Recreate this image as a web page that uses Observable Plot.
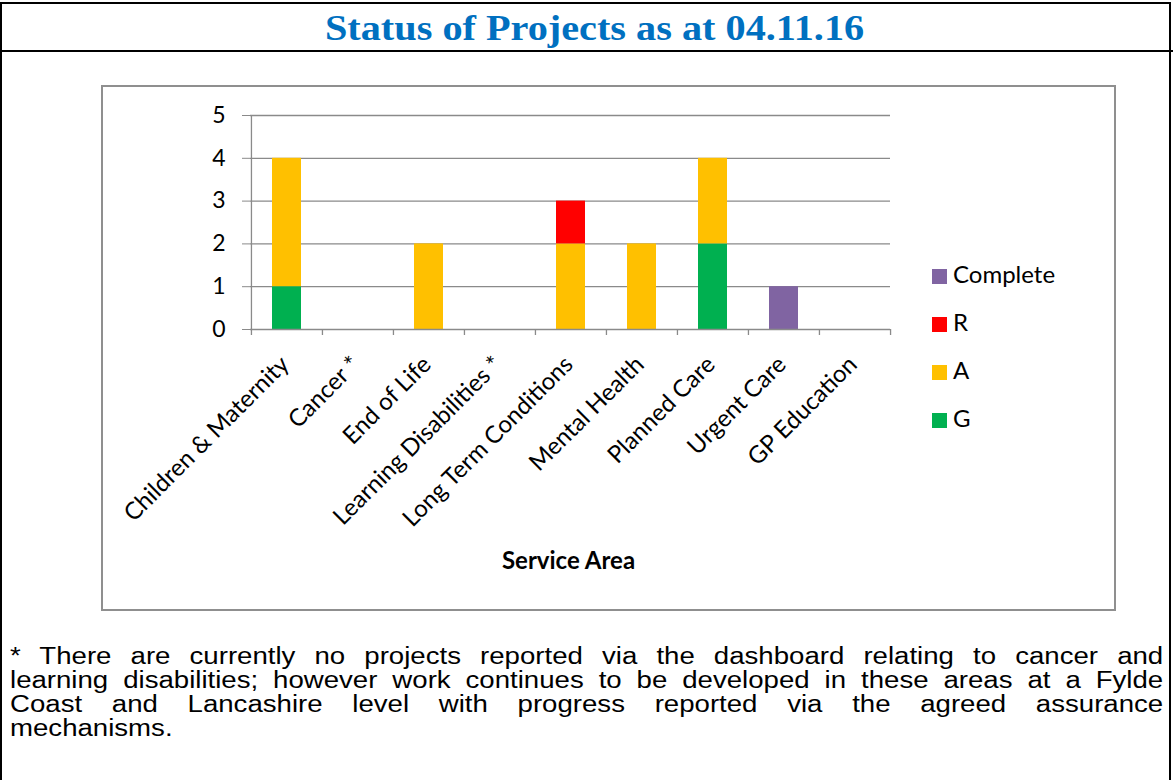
<!DOCTYPE html>
<html>
<head>
<meta charset="utf-8">
<script src="https://cdn.jsdelivr.net/npm/d3@7"></script>
<script src="https://cdn.jsdelivr.net/npm/@observablehq/plot@0.6"></script>
<style>
  html, body { margin: 0; padding: 0; background: #fff; }
  #page { position: relative; width: 1173px; height: 780px; overflow: hidden; background: #fff; }
  #outer { position: absolute; left: 0px; top: 2px; width: 1171px; height: 800px; border: 2px solid #000; box-sizing: border-box; }
  #sep { position: absolute; left: 0px; top: 50px; width: 1173px; height: 2px; background: #000; }
  #title { position: absolute; left: 8px; top: 10px; width: 1173px; text-align: center; font-family: "Liberation Serif", serif; font-weight: bold; font-size: 35px; color: #0070C0; line-height: 38px; transform: scaleX(1.15); transform-origin: 586px 0; white-space: nowrap; }
  #frame { position: absolute; left: 101px; top: 85px; width: 1015px; height: 526px; border: 2px solid #8f8f8f; box-sizing: border-box; }
  #chart { position: absolute; left: 101px; top: 85px; }
  #legend { position: absolute; left: 932px; top: 266px; font-family: Lato, sans-serif; font-size: 24px; color: #000; }
  .li { position: absolute; left: 0; height: 20px; white-space: nowrap; }
  .sw { position: absolute; left: 0; top: 3px; width: 15px; height: 15px; }
  .lt { position: absolute; left: 21px; top: -4px; line-height: 24px; }
  #note { position: absolute; left: 10px; top: 644px; width: 961px; transform: scaleX(1.2); transform-origin: 0 0; font-family: "Liberation Sans", Arial, sans-serif; font-size: 23px; line-height: 24px; color: #000; }
  #note .ln { text-align: justify; text-align-last: justify; white-space: nowrap; height: 24px; }
  #note .ln.last { text-align-last: left; }
</style>
</head>
<body>
<div id="page">
  <div id="outer"></div>
  <div id="sep"></div>
  <div id="title"></div>
  <div id="frame"></div>
  <div id="chart"></div>
  <div id="legend"></div>
  <div id="note"></div>
</div>
<script>
const titleText = "Status of Projects as at 04.11.16";
const categories = ["Children & Maternity", "Cancer *", "End of Life", "Learning Disabilities *", "Long Term Conditions", "Mental Health", "Planned Care", "Urgent Care", "GP Education"];
const statusG = [1, 0, 0, 0, 0, 0, 2, 0, 0];
const statusA = [3, 0, 2, 0, 2, 2, 2, 0, 0];
const statusR = [0, 0, 0, 0, 1, 0, 0, 0, 0];
const statusComplete = [0, 0, 0, 0, 0, 0, 0, 1, 0];
const legendOrder = ["Complete", "R", "A", "G"];
const stackOrder = ["G", "A", "R", "Complete"];
const statusColors = ["#8064A2", "#FF0000", "#FFC000", "#00B050"];
const yTicks = [0, 1, 2, 3, 4, 5];
const xTitle = "Service Area";
const footnoteLines = [
  "* There are currently no projects reported via the dashboard relating to cancer and",
  "learning disabilities; however work continues to be developed in these areas at a Fylde",
  "Coast and Lancashire level with progress reported via the agreed assurance",
  "mechanisms."
];

const seriesByStatus = {G: statusG, A: statusA, R: statusR, Complete: statusComplete};
const rows = [];
for (const s of stackOrder) {
  categories.forEach((c, i) => rows.push({category: c, status: s, value: seriesByStatus[s][i]}));
}

document.getElementById("title").textContent = titleText;
const note = document.getElementById("note");
footnoteLines.forEach((t, i) => {
  const d = document.createElement("div");
  d.className = "ln" + (i === footnoteLines.length - 1 ? " last" : "");
  d.textContent = t;
  note.appendChild(d);
});

const W = 1014, H = 525;
const mL = 149, mR = 225, mT = 30, mB = 281;
const bw = (W - mL - mR) / categories.length;
const grid = "#8a8a8a";

const chart = Plot.plot({
  width: W,
  height: H,
  marginLeft: mL,
  marginRight: mR,
  marginTop: mT,
  marginBottom: mB,
  style: {background: "transparent", fontFamily: "Lato, sans-serif", fontSize: "23px", color: "#000", overflow: "visible"},
  x: {type: "band", domain: categories, padding: 0, axis: null},
  y: {domain: [0, 5], axis: null},
  color: {domain: legendOrder, range: statusColors},
  marks: [
    Plot.ruleY(yTicks.filter(d => d > 0), {stroke: grid, strokeWidth: 1.3}),
    Plot.barY(rows, {x: "category", y: "value", fill: "status", order: stackOrder, insetLeft: 21, insetRight: 21}),
    Plot.ruleY([0], {stroke: grid, strokeWidth: 1.3}),
    Plot.ruleX(categories.slice(0, 1), {x: d => d, dx: -bw / 2, y1: 0, y2: 5, stroke: grid, strokeWidth: 1.3}),
    Plot.axisY({ticks: yTicks, tickSize: 8, tickPadding: 17, stroke: grid, fill: "#000", fontSize: 23, label: null, tickFormat: d => String(d)}),
    Plot.ruleX(categories, {x: d => d, dx: -bw / 2, y1: 0, y2: 0, insetBottom: -6, stroke: grid, strokeWidth: 1.3}),
    Plot.ruleX(categories.slice(-1), {x: d => d, dx: bw / 2, y1: 0, y2: 0, insetBottom: -6, stroke: grid, strokeWidth: 1.3}),
    Plot.text(categories, {x: d => d, frameAnchor: "bottom", rotate: -45, textAnchor: "end", lineAnchor: "middle", dx: -2, dy: 31, fontSize: 24, fill: "#000"}),
    Plot.text([xTitle], {frameAnchor: "bottom", dx: -2, dy: 239, fontWeight: "bold", fontSize: 24, fill: "#000"})
  ]
});
document.getElementById("chart").appendChild(chart);

const legend = document.getElementById("legend");
legendOrder.forEach((s, i) => {
  const item = document.createElement("div");
  item.className = "li";
  item.style.top = (i * 48) + "px";
  const sw = document.createElement("div");
  sw.className = "sw";
  sw.style.background = statusColors[i];
  const t = document.createElement("div");
  t.className = "lt";
  t.textContent = s;
  item.appendChild(sw);
  item.appendChild(t);
  legend.appendChild(item);
});
</script>
</body>
</html>
